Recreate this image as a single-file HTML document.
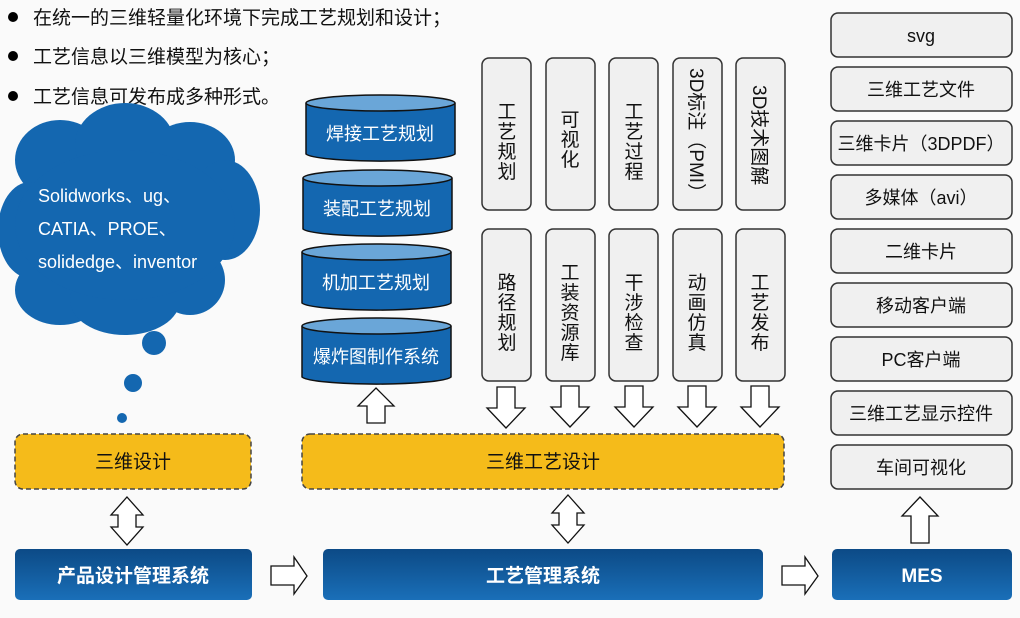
<!DOCTYPE html>
<html><head><meta charset="utf-8"><style>
html,body{margin:0;padding:0;background:#fafafa;}
svg text{font-family:"Liberation Sans","Noto Sans CJK SC",sans-serif;}
</style></head><body>
<svg width="1020" height="613" viewBox="0 0 1020 613" xmlns="http://www.w3.org/2000/svg">
<rect width="1020" height="613" fill="#fafafa"/>
<!-- bullets -->
<g font-size="19" fill="#111">
<circle cx="13" cy="17" r="5" fill="#000"/><text x="33" y="24">在统一的三维轻量化环境下完成工艺规划和设计；</text>
<circle cx="13" cy="56" r="5" fill="#000"/><text x="33" y="63">工艺信息以三维模型为核心；</text>
<circle cx="13" cy="96" r="5" fill="#000"/><text x="33" y="103">工艺信息可发布成多种形式。</text>
</g>
<!-- cloud -->
<g fill="#1467b0">
<ellipse cx="60" cy="160" rx="45" ry="40"/>
<ellipse cx="125" cy="145" rx="50" ry="42"/>
<ellipse cx="190" cy="160" rx="45" ry="38"/>
<ellipse cx="225" cy="210" rx="35" ry="50"/>
<ellipse cx="30" cy="230" rx="32" ry="48"/>
<ellipse cx="60" cy="290" rx="45" ry="35"/>
<ellipse cx="125" cy="300" rx="55" ry="35"/>
<ellipse cx="190" cy="280" rx="35" ry="35"/>
<ellipse cx="125" cy="225" rx="110" ry="75"/>
<circle cx="154" cy="343" r="12"/>
<circle cx="133" cy="383" r="9"/>
<circle cx="122" cy="418" r="5"/>
</g>
<g font-size="18" fill="#fff">
<text x="38" y="202">Solidworks、ug、</text>
<text x="38" y="235">CATIA、PROE、</text>
<text x="38" y="268">solidedge、inventor</text>
</g>
<!-- cylinders -->
<g stroke="#111" stroke-width="1.5">
<path d="M306 103 V154 A75 8 0 0 0 455 154 V103" fill="#1467b0"/><ellipse cx="380.5" cy="103" rx="74.5" ry="8" fill="#6aa6d8"/>
<path d="M303 178 V229 A75 8 0 0 0 452 229 V178" fill="#1467b0"/><ellipse cx="377.5" cy="178" rx="74.5" ry="8" fill="#6aa6d8"/>
<path d="M302 252 V303 A75 8 0 0 0 451 303 V252" fill="#1467b0"/><ellipse cx="376.5" cy="252" rx="74.5" ry="8" fill="#6aa6d8"/>
<path d="M302 326 V377 A75 8 0 0 0 451 377 V326" fill="#1467b0"/><ellipse cx="376.5" cy="326" rx="74.5" ry="8" fill="#6aa6d8"/>
</g>
<g font-size="18" fill="#fff" text-anchor="middle">
<text x="380" y="140">焊接工艺规划</text>
<text x="377" y="215">装配工艺规划</text>
<text x="376" y="289">机加工艺规划</text>
<text x="376" y="363">爆炸图制作系统</text>
</g>
<!-- up arrow under cylinders -->
<path d="M376 388 L394 406 L385 406 L385 423 L367 423 L367 406 L358 406 Z" fill="#fff" stroke="#111" stroke-width="1.3"/>
<!-- vertical boxes -->
<g fill="#f0f0f0" stroke="#333" stroke-width="1.5">
<rect x="482" y="58" width="49" height="152" rx="7"/><rect x="546" y="58" width="49" height="152" rx="7"/><rect x="609" y="58" width="49" height="152" rx="7"/><rect x="673" y="58" width="49" height="152" rx="7"/><rect x="736" y="58" width="49" height="152" rx="7"/>
<rect x="482" y="229" width="49" height="152" rx="7"/><rect x="546" y="229" width="49" height="152" rx="7"/><rect x="609" y="229" width="49" height="152" rx="7"/><rect x="673" y="229" width="49" height="152" rx="7"/><rect x="736" y="229" width="49" height="152" rx="7"/>
</g>
<g font-size="19" fill="#111" text-anchor="middle">
<text x="507" y="118">工</text><text x="507" y="138">艺</text><text x="507" y="158">规</text><text x="507" y="178">划</text>
<text x="570" y="126">可</text><text x="570" y="146">视</text><text x="570" y="166">化</text>
<text x="634" y="118">工</text><text x="634" y="138">艺</text><text x="634" y="158">过</text><text x="634" y="178">程</text>
<g transform="translate(690,68) rotate(90)" text-anchor="start"><text x="0" y="0">3D标注（PMI）</text></g>
<g transform="translate(753,85) rotate(90)" text-anchor="start"><text x="0" y="0">3D技术图解</text></g>
<text x="507" y="289">路</text><text x="507" y="309">径</text><text x="507" y="329">规</text><text x="507" y="349">划</text>
<text x="570" y="279">工</text><text x="570" y="299">装</text><text x="570" y="319">资</text><text x="570" y="339">源</text><text x="570" y="359">库</text>
<text x="634" y="289">干</text><text x="634" y="309">涉</text><text x="634" y="329">检</text><text x="634" y="349">查</text>
<text x="697" y="289">动</text><text x="697" y="309">画</text><text x="697" y="329">仿</text><text x="697" y="349">真</text>
<text x="760" y="289">工</text><text x="760" y="309">艺</text><text x="760" y="329">发</text><text x="760" y="349">布</text>
</g>
<!-- down arrows -->
<g fill="#fff" stroke="#111" stroke-width="1.3">
<path d="M497 387 H515 V408 H525 L506 428 L487 408 H497 Z"/>
<path d="M561 386 H579 V407 H589 L570 427 L551 407 H561 Z"/>
<path d="M625 386 H643 V407 H653 L634 427 L615 407 H625 Z"/>
<path d="M688 386 H706 V407 H716 L697 427 L678 407 H688 Z"/>
<path d="M751 386 H769 V407 H779 L760 427 L741 407 H751 Z"/>
</g>
<!-- yellow boxes -->
<g fill="#f5bb1a" stroke="#444" stroke-width="1.5" stroke-dasharray="5,3">
<rect x="15" y="434" width="236" height="55" rx="8"/>
<rect x="302" y="434" width="482" height="55" rx="8"/>
</g>
<g font-size="19" fill="#111" text-anchor="middle">
<text x="133" y="468">三维设计</text>
<text x="543" y="468">三维工艺设计</text>
</g>
<!-- double arrows -->
<g fill="#fff" stroke="#111" stroke-width="1.3">
<path d="M127 497 L143 515 L136 515 L136 527 L143 527 L127 545 L111 527 L118 527 L118 515 L111 515 Z"/>
<path d="M568 495 L584 513 L577 513 L577 525 L584 525 L568 543 L552 525 L559 525 L559 513 L552 513 Z"/>
<path d="M920 497 L938 516 L929 516 L929 543 L911 543 L911 516 L902 516 Z"/>
<path d="M271 566 H294 V557 L307 576 L294 594 V585 H271 Z"/>
<path d="M782 566 H805 V557 L818 576 L805 594 V585 H782 Z"/>
</g>
<!-- blue boxes -->
<defs><linearGradient id="bg" x1="0" y1="0" x2="0" y2="1"><stop offset="0" stop-color="#0c4a86"/><stop offset="1" stop-color="#1a6fb8"/></linearGradient></defs>
<g fill="url(#bg)">
<rect x="15" y="549" width="237" height="51" rx="5"/>
<rect x="323" y="549" width="440" height="51" rx="5"/>
<rect x="832" y="549" width="180" height="51" rx="5"/>
</g>
<g font-size="19" font-weight="bold" fill="#fff" text-anchor="middle">
<text x="133" y="582">产品设计管理系统</text>
<text x="543" y="582">工艺管理系统</text>
<text x="922" y="582">MES</text>
</g>
<!-- right column -->
<g fill="#f0f0f0" stroke="#333" stroke-width="1.5">
<rect x="831" y="13" width="181" height="44" rx="7"/>
<rect x="831" y="67" width="181" height="44" rx="7"/>
<rect x="831" y="121" width="181" height="44" rx="7"/>
<rect x="831" y="175" width="181" height="44" rx="7"/>
<rect x="831" y="229" width="181" height="44" rx="7"/>
<rect x="831" y="283" width="181" height="44" rx="7"/>
<rect x="831" y="337" width="181" height="44" rx="7"/>
<rect x="831" y="391" width="181" height="44" rx="7"/>
<rect x="831" y="445" width="181" height="44" rx="7"/>
</g>
<g font-size="18" fill="#111" text-anchor="middle">
<text x="921" y="42">svg</text>
<text x="921" y="96">三维工艺文件</text>
<text x="921" y="150">三维卡片（3DPDF）</text>
<text x="921" y="204">多媒体（avi）</text>
<text x="921" y="258">二维卡片</text>
<text x="921" y="312">移动客户端</text>
<text x="921" y="366">PC客户端</text>
<text x="921" y="420">三维工艺显示控件</text>
<text x="921" y="474">车间可视化</text>
</g>
</svg>
</body></html>
